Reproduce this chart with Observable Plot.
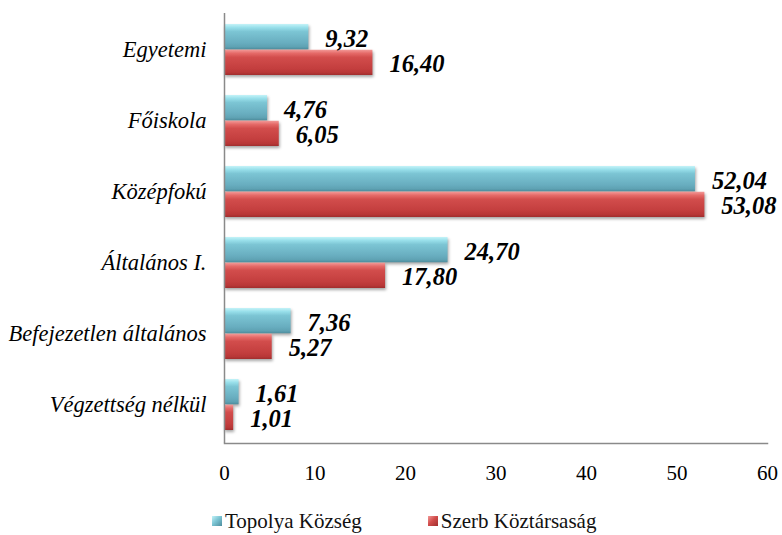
<!DOCTYPE html>
<html>
<head>
<meta charset="utf-8">
<script src="https://cdn.jsdelivr.net/npm/d3@7"></script>
<script src="https://cdn.jsdelivr.net/npm/@observablehq/plot@0.6"></script>
<style>
  body { margin: 0; background: #fff; }
  #wrap { position: relative; width: 782px; height: 535px; }
  #wrap svg g[aria-label="bar"] { filter: drop-shadow(1px 2px 1.5px rgba(0,0,0,0.35)); }
  #legend { position: absolute; left: 212px; top: 510px; display: flex; align-items: center;
    font-family: "Liberation Serif", serif; font-size: 21px; color: #111; line-height: 22px; }
  .sw { width: 10px; height: 10px; display: inline-block; margin-right: 3px; box-sizing: border-box; }
  .item { display: flex; align-items: center; }
</style>
</head>
<body>
<svg width="0" height="0" style="position:absolute">
  <defs>
    <linearGradient id="gc" x1="0" y1="0" x2="0" y2="1">
      <stop offset="0" stop-color="#c4f3f8"/>
      <stop offset="0.14" stop-color="#98dfea"/>
      <stop offset="0.3" stop-color="#7cc5d4"/>
      <stop offset="0.75" stop-color="#68adbf"/>
      <stop offset="0.9" stop-color="#5fa2b3"/>
      <stop offset="1" stop-color="#4e8d9d"/>
    </linearGradient>
    <linearGradient id="gr" x1="0" y1="0" x2="0" y2="1">
      <stop offset="0" stop-color="#f29a98"/>
      <stop offset="0.14" stop-color="#e56a68"/>
      <stop offset="0.3" stop-color="#d24d4c"/>
      <stop offset="0.75" stop-color="#c33e3e"/>
      <stop offset="0.9" stop-color="#b83737"/>
      <stop offset="1" stop-color="#a02e2e"/>
    </linearGradient>
  </defs>
</svg>
<div id="wrap"></div>
<script>
const categories = ["Egyetemi", "Főiskola", "Középfokú", "Általános I.", "Befejezetlen általános", "Végzettség nélkül"];
const seriesNames = ["Topolya Község", "Szerb Köztársaság"];
const topolya = [9.32, 4.76, 52.04, 24.70, 7.36, 1.61];
const szerb = [16.40, 6.05, 53.08, 17.80, 5.27, 1.01];
const xTicks = [0, 10, 20, 30, 40, 50, 60];

const rowsA = categories.map((c, i) => ({category: c, value: topolya[i]}));
const rowsB = categories.map((c, i) => ({category: c, value: szerb[i]}));
const fmt = v => v.toFixed(2).replace(".", ",");

const half = 25.75;
const labelFont = {fontWeight: "bold", fontStyle: "italic", fontSize: 24.5, fill: "#000", textAnchor: "start", dx: 16.5};

const chart = Plot.plot({
  width: 782,
  height: 500,
  marginTop: 13,
  marginBottom: 57,
  marginLeft: 224,
  marginRight: 15,
  style: {fontFamily: "'Liberation Serif', serif", color: "#000", background: "#fff", overflow: "visible"},
  x: {domain: [0, 60], axis: null},
  y: {type: "band", domain: categories, paddingInner: 0.284, paddingOuter: 0.13, align: 0.465, axis: null},
  marks: [
    Plot.barX(rowsA, {x: "value", y: "category", fill: "url(#gc)", insetBottom: half}),
    Plot.barX(rowsB, {x: "value", y: "category", fill: "url(#gr)", insetTop: half}),
    Plot.text(rowsA, {x: "value", y: "category", text: d => fmt(d.value), dy: -11.3, ...labelFont}),
    Plot.text(rowsB, {x: "value", y: "category", text: d => fmt(d.value), dy: 14.3, ...labelFont}),
    Plot.ruleX([0], {stroke: "#8a8a8a", strokeWidth: 1.5}),
    Plot.frame({anchor: "bottom", stroke: "#8a8a8a", strokeWidth: 1.5}),
    Plot.axisX({ticks: xTicks, tickSize: 0, tickPadding: 22, label: null, fontSize: 21, tickFormat: d => String(d)}),
    Plot.axisY({tickSize: 0, tickPadding: 18, label: null, fontSize: 22.5, fontStyle: "italic"})
  ]
});
document.getElementById("wrap").appendChild(chart);

const legend = document.createElement("div");
legend.id = "legend";
const grads = ["linear-gradient(135deg,#c4f3f8 0%,#7cc5d4 45%,#4e8d9d 100%)", "linear-gradient(135deg,#f29a98 0%,#d24d4c 45%,#a02e2e 100%)"];
seriesNames.forEach((n, i) => {
  const it = document.createElement("span");
  it.className = "item";
  it.style.marginRight = i === 0 ? "66px" : "0";
  const sw = document.createElement("span");
  sw.className = "sw";
  sw.style.background = grads[i];
  it.appendChild(sw);
  const t = document.createElement("span");
  t.textContent = n;
  it.appendChild(t);
  legend.appendChild(it);
});
document.getElementById("wrap").appendChild(legend);
</script>
</body>
</html>
